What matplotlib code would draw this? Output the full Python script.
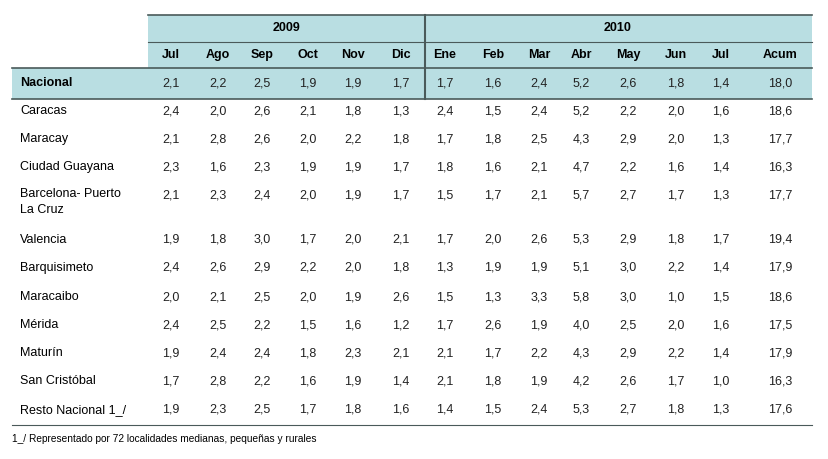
import matplotlib
matplotlib.use("Agg")
import matplotlib.pyplot as plt
from matplotlib.patches import Rectangle

months = ["Jul","Ago","Sep","Oct","Nov","Dic","Ene","Feb","Mar","Abr","May","Jun","Jul","Acum"]
rows = ["Nacional","Caracas","Maracay","Ciudad Guayana","Barcelona- Puerto\nLa Cruz","Valencia",
        "Barquisimeto","Maracaibo","Mérida","Maturín","San Cristóbal","Resto Nacional 1_/"]
nacional = [2.1,2.2,2.5,1.9,1.9,1.7,1.7,1.6,2.4,5.2,2.6,1.8,1.4,18.0]
caracas = [2.4,2.0,2.6,2.1,1.8,1.3,2.4,1.5,2.4,5.2,2.2,2.0,1.6,18.6]
maracay = [2.1,2.8,2.6,2.0,2.2,1.8,1.7,1.8,2.5,4.3,2.9,2.0,1.3,17.7]
guayana = [2.3,1.6,2.3,1.9,1.9,1.7,1.8,1.6,2.1,4.7,2.2,1.6,1.4,16.3]
barcelona = [2.1,2.3,2.4,2.0,1.9,1.7,1.5,1.7,2.1,5.7,2.7,1.7,1.3,17.7]
valencia = [1.9,1.8,3.0,1.7,2.0,2.1,1.7,2.0,2.6,5.3,2.9,1.8,1.7,19.4]
barquisimeto = [2.4,2.6,2.9,2.2,2.0,1.8,1.3,1.9,1.9,5.1,3.0,2.2,1.4,17.9]
maracaibo = [2.0,2.1,2.5,2.0,1.9,2.6,1.5,1.3,3.3,5.8,3.0,1.0,1.5,18.6]
merida = [2.4,2.5,2.2,1.5,1.6,1.2,1.7,2.6,1.9,4.0,2.5,2.0,1.6,17.5]
maturin = [1.9,2.4,2.4,1.8,2.3,2.1,2.1,1.7,2.2,4.3,2.9,2.2,1.4,17.9]
sancristobal = [1.7,2.8,2.2,1.6,1.9,1.4,2.1,1.8,1.9,4.2,2.6,1.7,1.0,16.3]
resto = [1.9,2.3,2.5,1.7,1.8,1.6,1.4,1.5,2.4,5.3,2.7,1.8,1.3,17.6]
values = [nacional,caracas,maracay,guayana,barcelona,valencia,barquisimeto,maracaibo,merida,maturin,sancristobal,resto]
footnote = "1_/ Representado por 72 localidades medianas, pequeñas y rurales"

W, H = 829, 459
fig = plt.figure(figsize=(W/100, H/100), dpi=100)
ax = fig.add_axes([0,0,1,1])
ax.set_xlim(0, W); ax.set_ylim(H, 0); ax.axis("off")
teal = "#B9DEE2"; line = "#4a5a5a"
fs = 9
ff = "Liberation Sans"
ax.add_patch(Rectangle((148,15),664,53,color=teal,lw=0))
ax.add_patch(Rectangle((12,68),800,31,color=teal,lw=0))
ax.plot([148,812],[15,15],color=line,lw=1.2)
ax.plot([148,812],[42,42],color=line,lw=0.8)
ax.plot([12,812],[68,68],color=line,lw=1.2)
ax.plot([12,812],[99,99],color=line,lw=1.2)
ax.plot([12,812],[425,425],color=line,lw=0.8)
ax.plot([425,425],[15,99],color=line,lw=1.5)
ax.text(287,28,"2009",ha="center",va="center",fontsize=fs,fontweight="bold",family=ff)
ax.text(618,28,"2010",ha="center",va="center",fontsize=fs,fontweight="bold",family=ff)
xs = [171,218,262,308,353,401,445,493,539,581,628,676,721,780]
for x,m in zip(xs,months):
    ax.text(x,55,m,ha="center",va="center",fontsize=fs,fontweight="bold",family=ff)
ys = [83,111,139,167,195,240,268,297,325,353,381,410]
for i,(r,vals,y) in enumerate(zip(rows,values,ys)):
    bold = "bold" if i==0 else "normal"
    if "\n" in r:
        ax.text(20,188,r,ha="left",va="top",fontsize=fs,family=ff,linespacing=1.45)
    else:
        ax.text(20,y,r,ha="left",va="center",fontsize=fs,fontweight=bold,family=ff)
    for x,v in zip(xs,vals):
        ax.text(x,y,f"{v:.1f}".replace(".",","),ha="center",va="center",fontsize=fs,family=ff,color="#222")
ax.text(12,439,footnote,ha="left",va="center",fontsize=7.3,family=ff)
fig.savefig("out.png",dpi=100)
